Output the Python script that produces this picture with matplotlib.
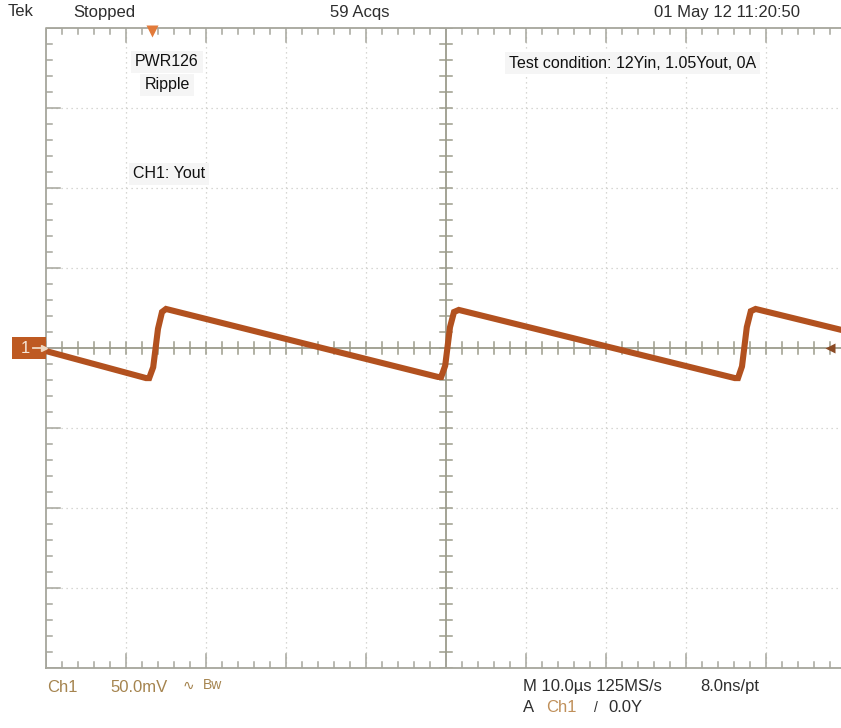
import matplotlib
matplotlib.use('Agg')
import matplotlib.pyplot as plt
from matplotlib.patches import Rectangle
from matplotlib.lines import Line2D
import numpy as np

W, H = 841, 728

# ---- data: CH1 ripple trace (time in microseconds, voltage in mV) ----
time_us = [0.0, 12.5, 12.9, 13.4, 14.0, 14.5, 15.0,
           49.0, 49.4, 49.9, 50.5, 51.0, 51.6,
           86.1, 86.5, 87.0, 87.6, 88.1, 88.7, 100.0]
ch1_mV = [-1.9, -18.8, -18.8, -12.0, 12.0, 22.5, 24.4,
          -18.1, -18.1, -11.0, 13.0, 22.5, 23.8,
          -18.8, -18.8, -11.5, 13.0, 23.0, 24.4, 10.6]

us_per_div = 10.0
mV_per_div = 50.0
n_hdiv, n_vdiv = 10, 8

header_labels = ["Tek", "Stopped", "59 Acqs", "01 May 12 11:20:50"]
note_labels = ["PWR126", "Ripple", "CH1: Yout", "Test condition: 12Yin, 1.05Yout, 0A"]
footer_labels = ["Ch1", "50.0mV", "∿", "Bw", "M 10.0µs 125MS/s", "8.0ns/pt",
                 "A", "Ch1", "/", "0.0Y"]

TRACE = '#B2511F'
GRID = '#CBCBC6'
FRAME = '#A6A69C'
TAN = '#A5844F'
DARK = '#2E2E2E'

plt.rcParams['font.family'] = ['Liberation Sans', 'DejaVu Sans']

fig = plt.figure(figsize=(W / 100, H / 100), dpi=100)
fig.patch.set_facecolor('white')

x0, y0, pw, ph = 46, 28, 800, 640
ax = fig.add_axes([x0 / W, 1 - (y0 + ph) / H, pw / W, ph / H])
xmax = n_hdiv * us_per_div
ymax = n_vdiv / 2 * mV_per_div
ax.set_xlim(0, xmax)
ax.set_ylim(-ymax, ymax)
ax.axis('off')

px_x = xmax / pw          # data per pixel horizontally
px_y = 2 * ymax / ph      # data per pixel vertically

# dotted division grid
for i in range(1, n_hdiv):
    if i == n_hdiv // 2:
        continue
    ax.plot([i * us_per_div] * 2, [-ymax, ymax], color=GRID, lw=0.9,
            ls=(0, (1, 3)), zorder=1)
for j in range(1, n_vdiv):
    if j == n_vdiv // 2:
        continue
    yv = -ymax + j * mV_per_div
    ax.plot([0, xmax], [yv, yv], color=GRID, lw=0.9, ls=(0, (1, 3)), zorder=1)

# center cross
cx = xmax / 2
ax.plot([0, xmax], [0, 0], color='#9C9C8C', lw=1.3, zorder=2)
ax.plot([cx, cx], [-ymax, ymax], color='#9C9C8C', lw=1.3, zorder=2)
minor_x = np.arange(0, xmax + 1e-6, us_per_div / 5)
minor_y = np.arange(-ymax, ymax + 1e-6, mV_per_div / 5)
for xv in minor_x:
    ax.plot([xv, xv], [-6 * px_y, 6 * px_y], color='#9C9C8C', lw=1.1, zorder=2)
for yv in minor_y:
    ax.plot([cx - 6 * px_x, cx + 6 * px_x], [yv, yv], color='#9C9C8C', lw=1.1, zorder=2)

# frame with edge ticks
ax.plot([0, xmax, xmax, 0, 0], [-ymax, -ymax, ymax, ymax, -ymax], color=FRAME,
        lw=1.3, zorder=2, clip_on=False)
for k, xv in enumerate(minor_x):
    L = 14 if k % 5 == 0 else 6
    ax.plot([xv, xv], [ymax, ymax - L * px_y], color=FRAME, lw=1.1, zorder=2)
    ax.plot([xv, xv], [-ymax, -ymax + L * px_y], color=FRAME, lw=1.1, zorder=2)
for k, yv in enumerate(minor_y):
    L = 14 if k % 5 == 0 else 6
    ax.plot([0, L * px_x], [yv, yv], color=FRAME, lw=1.1, zorder=2)

# trace
ax.plot(time_us, ch1_mV, color=TRACE, lw=4.4, solid_joinstyle='miter',
        solid_capstyle='butt', zorder=5)

# trigger position marker (top) and level marker (right)
ax.plot([13.25], [ymax - 3 * px_y], marker='v', ms=9, color='#E27A3A',
        mec='none', clip_on=False, zorder=6)
ax.plot([98.0], [0], marker='<', ms=7, color='#8A4A25', mec='none', zorder=6)


def ftext(x, y, s, **kw):
    kw.setdefault('va', 'center')
    kw.setdefault('ha', 'left')
    fig.text(x / W, 1 - y / H, s, **kw)


# header
ftext(8, 12, header_labels[0], fontsize=12, color=DARK)
ftext(73, 12, header_labels[1], fontsize=12, color=DARK)
ftext(330, 12, header_labels[2], fontsize=12, color=DARK)
ftext(800, 12, header_labels[3], fontsize=12, color=DARK, ha='right')

# notes
box = dict(boxstyle='square,pad=0.25', facecolor='#F5F5F5', edgecolor='none')
ftext(167, 62, note_labels[0], fontsize=11.5, color='#111111', ha='center', bbox=box)
ftext(167, 85, note_labels[1], fontsize=11.5, color='#111111', ha='center', bbox=box)
ftext(133, 174, note_labels[2], fontsize=11.5, color='#111111', bbox=box)
ftext(509, 63, note_labels[3], fontsize=11.5, color='#111111', bbox=box)

# footer
ftext(47, 687, footer_labels[0], fontsize=12, color=TAN)
ftext(110, 687, footer_labels[1], fontsize=12, color=TAN)
ftext(183, 686, footer_labels[2], fontsize=10, color=TAN)
ftext(203, 685, footer_labels[3], fontsize=10, color=TAN)
ftext(523, 687, footer_labels[4], fontsize=12, color=DARK)
ftext(700, 687, footer_labels[5], fontsize=12, color=DARK)
ftext(523, 707, footer_labels[6], fontsize=12, color=DARK)
ftext(546, 707, footer_labels[7], fontsize=12, color='#C0905A')
ftext(594, 708, footer_labels[8], fontsize=10, color=DARK)
ftext(608, 707, footer_labels[9], fontsize=12, color=DARK)

# channel 1 ground marker
fig.patches.append(Rectangle((12 / W, 1 - 359 / H), 34 / W, 22 / H,
                             transform=fig.transFigure, facecolor='#BE5A22',
                             edgecolor='none', zorder=3))
ftext(25, 348, "1", fontsize=12, color='#F5E6D8', ha='center', zorder=4)
fig.lines.append(Line2D([33 / W, 44 / W], [1 - 348 / H, 1 - 348 / H],
                        transform=fig.transFigure, color='#F0D8C0', lw=1.3,
                        marker='>', markevery=[1], ms=4, zorder=4))

fig.savefig('out.png', dpi=100)
